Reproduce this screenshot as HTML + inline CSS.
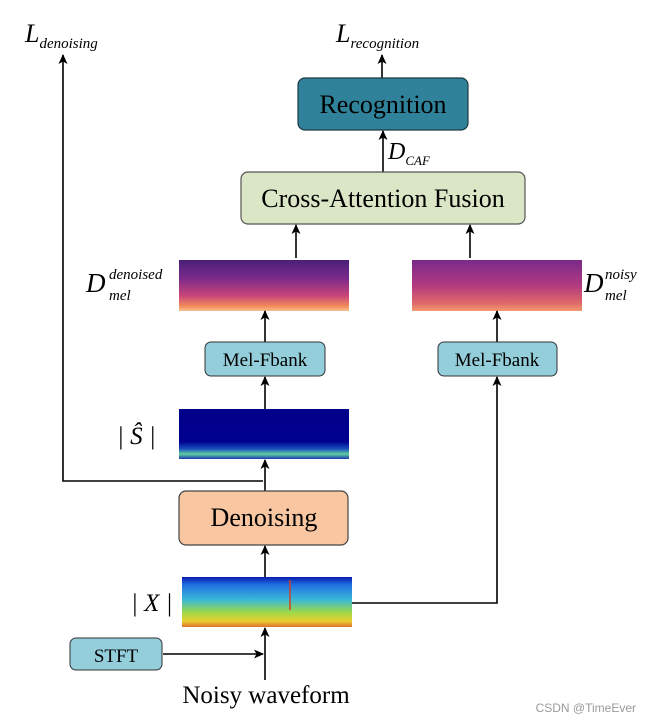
<!DOCTYPE html>
<html><head><meta charset="utf-8"><style>
html,body{margin:0;padding:0;background:#fff;}
svg{display:block;font-family:"Liberation Serif",serif;}
</style></head><body>
<svg width="651" height="724" viewBox="0 0 651 724" xmlns="http://www.w3.org/2000/svg">
<defs>
<marker id="a" markerWidth="10" markerHeight="10" refX="9" refY="4.5" orient="auto" markerUnits="userSpaceOnUse">
<path d="M0,0 L10,4.5 L0,9 L2.5,4.5 Z" fill="#000"/></marker>
<linearGradient id="mel" x1="0" y1="0" x2="0" y2="1">
<stop offset="0" stop-color="#4a1f78"/><stop offset="0.35" stop-color="#7a2a8a"/>
<stop offset="0.7" stop-color="#c8457a"/><stop offset="0.9" stop-color="#f28a5a"/><stop offset="1" stop-color="#f7c08a"/></linearGradient>
<linearGradient id="mel2" x1="0" y1="0" x2="0" y2="1">
<stop offset="0" stop-color="#7a2a8a"/><stop offset="0.5" stop-color="#b23a80"/>
<stop offset="0.85" stop-color="#e06a6a"/><stop offset="1" stop-color="#f39a70"/></linearGradient>
<linearGradient id="s" x1="0" y1="0" x2="0" y2="1">
<stop offset="0" stop-color="#00008a"/><stop offset="0.65" stop-color="#00008e"/>
<stop offset="0.8" stop-color="#1a50c0"/><stop offset="0.9" stop-color="#5ed0a0"/><stop offset="1" stop-color="#1a3ab0"/></linearGradient>
<linearGradient id="x" x1="0" y1="0" x2="0" y2="1">
<stop offset="0" stop-color="#0a1ab0"/><stop offset="0.15" stop-color="#1e6ee0"/>
<stop offset="0.45" stop-color="#3ab8d8"/><stop offset="0.7" stop-color="#9ad84a"/><stop offset="0.88" stop-color="#e8d030"/><stop offset="1" stop-color="#e07030"/></linearGradient>
</defs>

<text x="25" y="42" font-size="26" font-style="italic">L<tspan font-size="15" dy="6">denoising</tspan></text>
<text x="336" y="42" font-size="26" font-style="italic">L<tspan font-size="15" dy="6">recognition</tspan></text>

<polyline points="263,481 63,481 63,55" fill="none" stroke="#000" stroke-width="1.6" marker-end="url(#a)"/>
<line x1="382" y1="78" x2="382" y2="55" stroke="#000" stroke-width="1.6" marker-end="url(#a)"/>

<rect x="298" y="78" width="170" height="52" rx="7" fill="#2f8299" stroke="#1d3b44" stroke-width="1.2"/>
<text x="383" y="113" font-size="26" text-anchor="middle">Recognition</text>
<line x1="383" y1="172" x2="383" y2="131" stroke="#000" stroke-width="1.6" marker-end="url(#a)"/>
<text x="388" y="159" font-size="24" font-style="italic">D<tspan font-size="13" dy="6">CAF</tspan></text>

<rect x="241" y="172" width="284" height="52" rx="7" fill="#dae6c6" stroke="#555" stroke-width="1.2"/>
<text x="383" y="207" font-size="26" text-anchor="middle">Cross-Attention Fusion</text>
<line x1="296" y1="258" x2="296" y2="225" stroke="#000" stroke-width="1.6" marker-end="url(#a)"/>
<line x1="470" y1="258" x2="470" y2="225" stroke="#000" stroke-width="1.6" marker-end="url(#a)"/>

<rect x="179" y="260" width="170" height="51" fill="url(#mel)"/>
<rect x="412" y="260" width="170" height="51" fill="url(#mel2)"/>
<text x="86" y="292" font-size="27" font-style="italic">D</text>
<text x="109" y="279" font-size="15" font-style="italic">denoised</text>
<text x="109" y="300" font-size="15" font-style="italic">mel</text>
<text x="584" y="292" font-size="27" font-style="italic">D</text>
<text x="605" y="279" font-size="15" font-style="italic">noisy</text>
<text x="605" y="300" font-size="15" font-style="italic">mel</text>

<line x1="265" y1="342" x2="265" y2="311" stroke="#000" stroke-width="1.6" marker-end="url(#a)"/>
<line x1="497" y1="342" x2="497" y2="311" stroke="#000" stroke-width="1.6" marker-end="url(#a)"/>

<rect x="205" y="342" width="120" height="34" rx="6" fill="#93ceda" stroke="#333" stroke-width="1"/>
<text x="265" y="366" font-size="19" text-anchor="middle">Mel-Fbank</text>
<rect x="438" y="342" width="119" height="34" rx="6" fill="#93ceda" stroke="#333" stroke-width="1"/>
<text x="497" y="366" font-size="19" text-anchor="middle">Mel-Fbank</text>

<line x1="265" y1="409" x2="265" y2="377" stroke="#000" stroke-width="1.6" marker-end="url(#a)"/>

<rect x="179" y="409" width="170" height="50" fill="url(#s)"/>
<text x="117" y="444" font-size="25" font-style="italic">| Ŝ |</text>

<line x1="265" y1="491" x2="265" y2="460" stroke="#000" stroke-width="1.6" marker-end="url(#a)"/>

<rect x="179" y="491" width="169" height="54" rx="7" fill="#f8c6a0" stroke="#444" stroke-width="1.2"/>
<text x="264" y="526" font-size="26" text-anchor="middle">Denoising</text>

<line x1="265" y1="577" x2="265" y2="546" stroke="#000" stroke-width="1.6" marker-end="url(#a)"/>

<rect x="182" y="577" width="170" height="50" fill="url(#x)"/>
<line x1="290" y1="580" x2="290" y2="610" stroke="#d04020" stroke-width="1.5"/>
<text x="131" y="611" font-size="25" font-style="italic">| X |</text>
<polyline points="352,603 497,603 497,377" fill="none" stroke="#000" stroke-width="1.6" marker-end="url(#a)"/>

<rect x="70" y="638" width="92" height="32" rx="6" fill="#93ceda" stroke="#333" stroke-width="1"/>
<text x="116" y="662" font-size="19" text-anchor="middle">STFT</text>
<line x1="163" y1="654" x2="263" y2="654" stroke="#000" stroke-width="1.6" marker-end="url(#a)"/>
<line x1="265" y1="680" x2="265" y2="628" stroke="#000" stroke-width="1.6" marker-end="url(#a)"/>

<text x="266" y="703" font-size="25" text-anchor="middle">Noisy waveform</text>
<text x="636" y="712" font-size="12" text-anchor="end" fill="#999" font-family="Liberation Sans,sans-serif">CSDN @TimeEver</text>
</svg>
</body></html>
